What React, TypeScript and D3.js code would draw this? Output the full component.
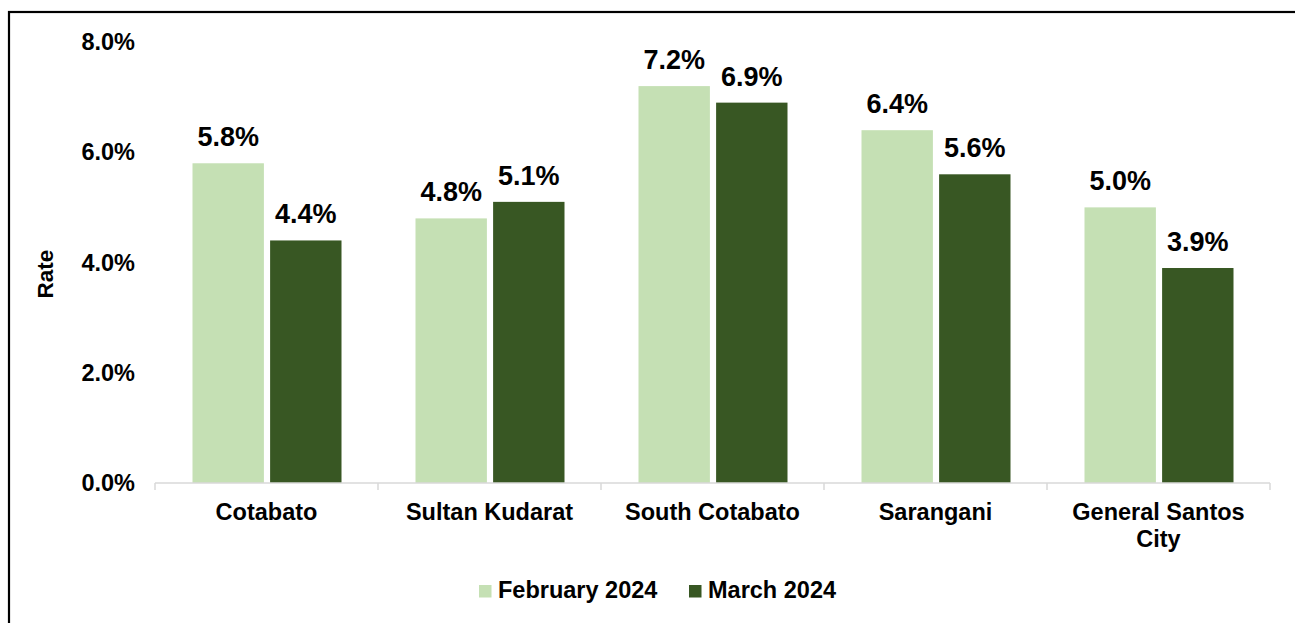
import React from "react";
import * as d3 from "d3";

const categories = ["Cotabato", "Sultan Kudarat", "South Cotabato", "Sarangani", "General Santos City"];
const seriesNames = ["February 2024", "March 2024"];
const febValues = [5.8, 4.8, 7.2, 6.4, 5.0];
const marValues = [4.4, 5.1, 6.9, 5.6, 3.9];
const yTickValues = [0, 2, 4, 6, 8];
const colors = ["#c5e0b4", "#385723"];

const W = 1295;
const H = 623;
const FONT = "'Liberation Sans', Arial, Helvetica, sans-serif";

function wrap(label: string, maxChars: number): string[] {
  const words = label.split(" ");
  const lines: string[] = [];
  let cur = "";
  for (const w of words) {
    const next = cur ? cur + " " + w : w;
    if (next.length > maxChars && cur) {
      lines.push(cur);
      cur = w;
    } else cur = next;
  }
  if (cur) lines.push(cur);
  return lines;
}

export default function App() {
  const x0 = d3.scaleBand<string>().domain(categories).range([155, 1270]).padding(0);
  const bw = x0.bandwidth();
  const x1 = d3.scaleBand<string>().domain(seriesNames).range([37.5, bw - 36.5]).paddingInner(0.08).paddingOuter(0);
  const y = d3.scaleLinear().domain([0, 8]).range([483, 42]);
  const seriesValues = [febValues, marValues];
  const fmt = (v: number) => d3.format(".1f")(v) + "%";

  const boundaries = categories.map((c) => x0(c)!).concat([x0.range()[1]]);

  return (
    <div style={{ position: "absolute", left: 0, top: 0 }}>
      <svg width={W} height={H} style={{ display: "block", background: "#fff" }}>
        <rect x={0} y={0} width={W} height={H} fill="#fff" />
        <rect x={9} y={12} width={1320} height={700} fill="none" stroke="#000" strokeWidth={2.2} />

        {/* bars */}
        {categories.map((c, i) => (
          <g key={c} transform={`translate(${x0(c)},0)`}>
            {seriesNames.map((s, j) => {
              const v = seriesValues[j][i];
              const bx = x1(s)!;
              return (
                <g key={s}>
                  <rect x={bx} y={y(v)} width={x1.bandwidth()} height={y(0) - y(v)} fill={colors[j]} />
                  <text
                    x={bx + x1.bandwidth() / 2}
                    y={y(v) - 17}
                    textAnchor="middle"
                    fontFamily={FONT}
                    fontWeight="bold"
                    fontSize={27}
                    fill="#000"
                  >
                    {fmt(v)}
                  </text>
                </g>
              );
            })}
          </g>
        ))}

        {/* x axis */}
        <line x1={155} x2={1270} y1={y(0)} y2={y(0)} stroke="#d9d9d9" strokeWidth={1.5} />
        {boundaries.map((bx, i) => (
          <line key={i} x1={bx} x2={bx} y1={y(0)} y2={y(0) + 7} stroke="#d9d9d9" strokeWidth={1.5} />
        ))}
        {categories.map((c) => {
          const lines = wrap(c, 14);
          return (
            <text
              key={c}
              x={x0(c)! + bw / 2}
              y={520}
              textAnchor="middle"
              fontFamily={FONT}
              fontWeight="bold"
              fontSize={23.5}
              fill="#000"
            >
              {lines.map((l, k) => (
                <tspan key={k} x={x0(c)! + bw / 2} dy={k === 0 ? 0 : 27}>
                  {l}
                </tspan>
              ))}
            </text>
          );
        })}

        {/* y ticks */}
        {yTickValues.map((t) => (
          <text
            key={t}
            x={135}
            y={y(t)}
            dy="0.35em"
            textAnchor="end"
            fontFamily={FONT}
            fontWeight="bold"
            fontSize={23.5}
            fill="#000"
          >
            {fmt(t)}
          </text>
        ))}

        {/* y title */}
        <text
          transform={`translate(53,274) rotate(-90)`}
          textAnchor="middle"
          fontFamily={FONT}
          fontWeight="bold"
          fontSize={22.5}
          fill="#000"
        >
          Rate
        </text>

        {/* legend */}
        {seriesNames.map((s, j) => {
          const lx = j === 0 ? 479 : 689;
          return (
            <g key={s}>
              <rect x={lx} y={585} width={12.5} height={12.5} fill={colors[j]} />
              <text x={lx + 19} y={598} fontFamily={FONT} fontWeight="bold" fontSize={23.5} fill="#000">
                {s}
              </text>
            </g>
          );
        })}
      </svg>
    </div>
  );
}
